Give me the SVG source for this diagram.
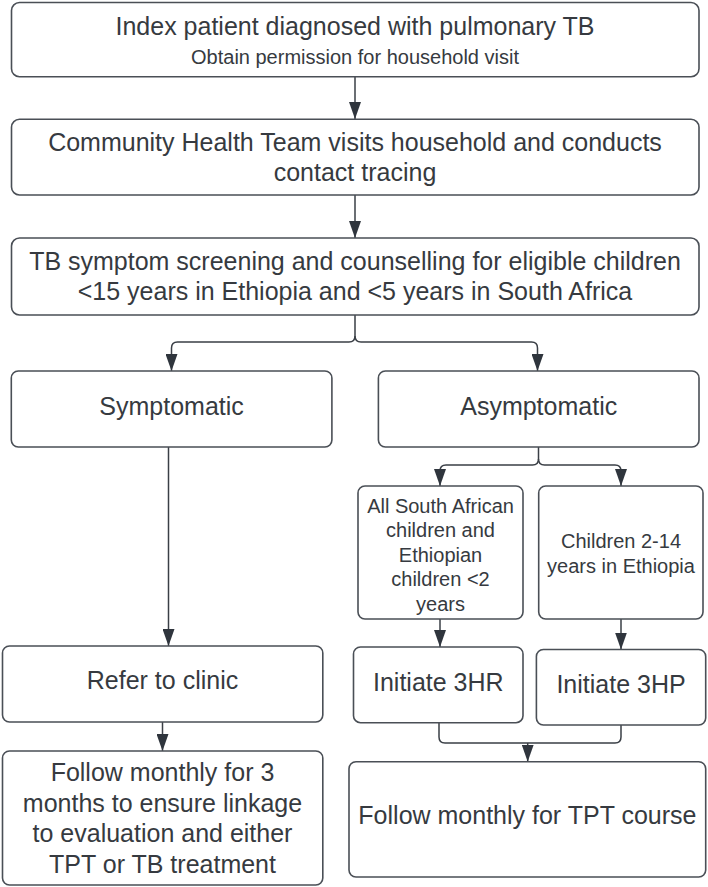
<svg xmlns="http://www.w3.org/2000/svg" width="708" height="887" viewBox="0 0 708 887">
<defs>
<marker id="arr" viewBox="0 0 17 12" refX="17" refY="6" markerWidth="17" markerHeight="12" markerUnits="userSpaceOnUse" orient="auto">
<path d="M0,0 L17,6 L0,12 z" fill="#2f353d"/>
</marker>
<style>
.box{fill:#ffffff;stroke:#4a4f56;stroke-width:1.6}
.t{font-family:"Liberation Sans",Arial,sans-serif;fill:#363a40;text-anchor:middle}
.l{font-size:25px}
.m{font-size:20px}
.c{fill:none;stroke:#3a3f46;stroke-width:1.5}
</style>
</defs>
<rect width="708" height="887" fill="#ffffff"/>
<g id="connectors">
<path class="c" d="M355,77 V119" marker-end="url(#arr)"/>
<path class="c" d="M355,195 V238" marker-end="url(#arr)"/>
<path class="c" d="M355,315 V336 Q355,342 349,342 H177.5 Q171.5,342 171.5,348 V371" marker-end="url(#arr)"/>
<path class="c" d="M355,336 Q355,342 361,342 H531.5 Q537.5,342 537.5,348 V371" marker-end="url(#arr)"/>
<path class="c" d="M168.5,447 V646" marker-end="url(#arr)"/>
<path class="c" d="M538.5,447 V459 Q538.5,465 532.5,465 H446 Q440,465 440,471 V486" marker-end="url(#arr)"/>
<path class="c" d="M538.5,459 Q538.5,465 544.5,465 H615 Q621,465 621,471 V486" marker-end="url(#arr)"/>
<path class="c" d="M440,619 V647" marker-end="url(#arr)"/>
<path class="c" d="M621,619 V649.5" marker-end="url(#arr)"/>
<path class="c" d="M162.5,722 V751" marker-end="url(#arr)"/>
<path class="c" d="M439,722.7 V737 Q439,743 445,743 H615 Q621,743 621,737 V725"/>
<path class="c" d="M527.7,743 V761.7" marker-end="url(#arr)"/>
</g>
<g id="n1">
<rect class="box" x="11.5" y="2.5" width="687.5" height="74.2" rx="8"/>
<text class="t l" x="355" y="35">Index patient diagnosed with pulmonary TB</text>
<text class="t m" x="355" y="63.5">Obtain permission for household visit</text>
</g>
<g id="n2">
<rect class="box" x="11.5" y="119.3" width="687.5" height="75.7" rx="8"/>
<text class="t l" x="355" y="150.5">Community Health Team visits household and conducts</text>
<text class="t l" x="355" y="181">contact tracing</text>
</g>
<g id="n3">
<rect class="box" x="11.5" y="238" width="687.5" height="77" rx="8"/>
<text class="t l" x="355" y="269.5">TB symptom screening and counselling for eligible children</text>
<text class="t l" x="355" y="300">&lt;15 years in Ethiopia and &lt;5 years in South Africa</text>
</g>
<g id="n4">
<rect class="box" x="11.3" y="371" width="320.6" height="76" rx="7"/>
<text class="t l" x="171.6" y="414.5">Symptomatic</text>
</g>
<g id="n5">
<rect class="box" x="378.4" y="371" width="320.6" height="76" rx="7"/>
<text class="t l" x="538.7" y="414.5">Asymptomatic</text>
</g>
<g id="n6">
<rect class="box" x="358" y="486" width="165" height="133" rx="7"/>
<text class="t m" x="440.5" y="512.5">All South African</text>
<text class="t m" x="440.5" y="537">children and</text>
<text class="t m" x="440.5" y="561.5">Ethiopian</text>
<text class="t m" x="440.5" y="586">children &lt;2</text>
<text class="t m" x="440.5" y="610.5">years</text>
</g>
<g id="n7">
<rect class="box" x="538.7" y="486" width="164.3" height="133" rx="7"/>
<text class="t m" x="621" y="547.5">Children 2-14</text>
<text class="t m" x="621" y="572.5">years in Ethiopia</text>
</g>
<g id="n8">
<rect class="box" x="2.5" y="646" width="320.3" height="76" rx="7"/>
<text class="t l" x="162.5" y="689">Refer to clinic</text>
</g>
<g id="n9">
<rect class="box" x="353.5" y="647" width="169.5" height="75.7" rx="7"/>
<text class="t l" x="438.3" y="691">Initiate 3HR</text>
</g>
<g id="n10">
<rect class="box" x="536.4" y="649.5" width="169.3" height="75.5" rx="7"/>
<text class="t l" x="621" y="693">Initiate 3HP</text>
</g>
<g id="n11">
<rect class="box" x="2.5" y="751" width="320.3" height="134" rx="7"/>
<text class="t l" x="162.5" y="781">Follow monthly for 3</text>
<text class="t l" x="162.5" y="811.5">months to ensure linkage</text>
<text class="t l" x="162.5" y="842">to evaluation and either</text>
<text class="t l" x="162.5" y="872.5">TPT or TB treatment</text>
</g>
<g id="n12">
<rect class="box" x="349" y="761.7" width="356.7" height="115.3" rx="7"/>
<text class="t l" x="527.4" y="824">Follow monthly for TPT course</text>
</g>
</svg>
